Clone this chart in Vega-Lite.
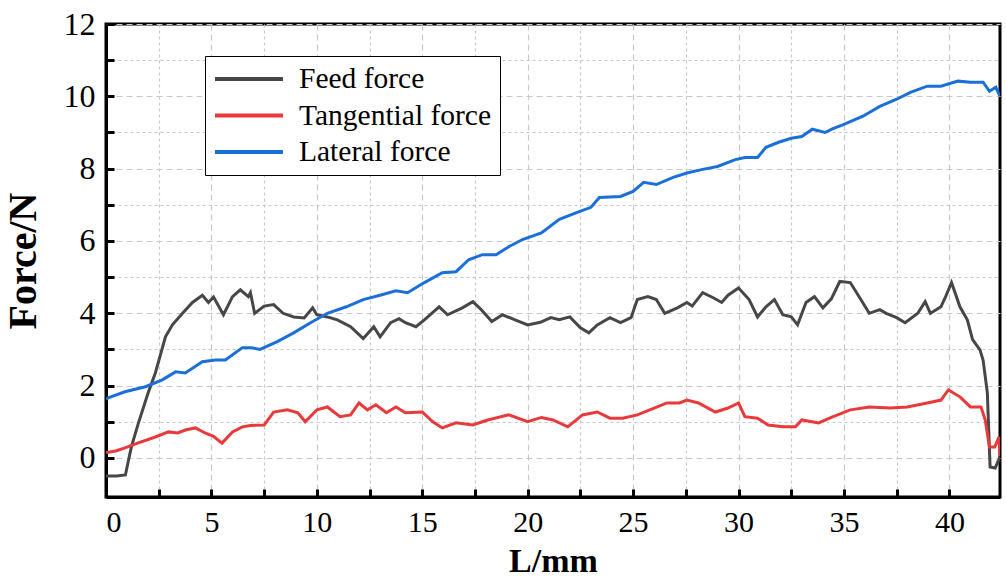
{
  "$schema": "https://vega.github.io/schema/vega-lite/v6.json",
  "autosize": "none",
  "width": 894,
  "height": 473,
  "padding": {"left": 106, "top": 24, "right": 6, "bottom": 83},
  "background": "white",
  "config": {
    "view": {"stroke": "black", "strokeWidth": 3},
    "font": "Liberation Serif",
    "axis": {"labelFont": "Liberation Serif", "titleFont": "Liberation Serif"},
    "legend": {"labelFont": "Liberation Serif"}
  },
  "data": {"values": [
{"s":"Feed force","L":0,"F":-0.5},{"s":"Feed force","L":0.5,"F":-0.5},{"s":"Feed force","L":0.92,"F":-0.47},{"s":"Feed force","L":1.2,"F":0.3},{"s":"Feed force","L":1.54,"F":0.97},{"s":"Feed force","L":2.0,"F":1.8},{"s":"Feed force","L":2.34,"F":2.35},{"s":"Feed force","L":2.82,"F":3.35},{"s":"Feed force","L":3.15,"F":3.68},{"s":"Feed force","L":3.63,"F":4.0},{"s":"Feed force","L":4.1,"F":4.3},{"s":"Feed force","L":4.57,"F":4.5},{"s":"Feed force","L":4.86,"F":4.3},{"s":"Feed force","L":5.1,"F":4.45},{"s":"Feed force","L":5.57,"F":3.96},{"s":"Feed force","L":6.0,"F":4.46},{"s":"Feed force","L":6.37,"F":4.65},{"s":"Feed force","L":6.75,"F":4.46},{"s":"Feed force","L":6.85,"F":4.57},{"s":"Feed force","L":7.05,"F":4.0},{"s":"Feed force","L":7.5,"F":4.2},{"s":"Feed force","L":7.95,"F":4.24},{"s":"Feed force","L":8.4,"F":4.0},{"s":"Feed force","L":8.9,"F":3.9},{"s":"Feed force","L":9.4,"F":3.87},{"s":"Feed force","L":9.8,"F":4.15},{"s":"Feed force","L":10.0,"F":3.96},{"s":"Feed force","L":10.5,"F":3.9},{"s":"Feed force","L":10.97,"F":3.82},{"s":"Feed force","L":11.6,"F":3.63},{"s":"Feed force","L":12.2,"F":3.3},{"s":"Feed force","L":12.7,"F":3.63},{"s":"Feed force","L":13.0,"F":3.35},{"s":"Feed force","L":13.5,"F":3.74},{"s":"Feed force","L":13.9,"F":3.85},{"s":"Feed force","L":14.2,"F":3.74},{"s":"Feed force","L":14.7,"F":3.63},{"s":"Feed force","L":15.1,"F":3.82},{"s":"Feed force","L":15.8,"F":4.18},{"s":"Feed force","L":16.2,"F":3.96},{"s":"Feed force","L":16.9,"F":4.15},{"s":"Feed force","L":17.4,"F":4.32},{"s":"Feed force","L":17.8,"F":4.1},{"s":"Feed force","L":18.3,"F":3.77},{"s":"Feed force","L":18.8,"F":3.96},{"s":"Feed force","L":19.4,"F":3.82},{"s":"Feed force","L":20.0,"F":3.68},{"s":"Feed force","L":20.6,"F":3.75},{"s":"Feed force","L":21.1,"F":3.88},{"s":"Feed force","L":21.5,"F":3.82},{"s":"Feed force","L":22.0,"F":3.9},{"s":"Feed force","L":22.5,"F":3.6},{"s":"Feed force","L":22.9,"F":3.46},{"s":"Feed force","L":23.3,"F":3.68},{"s":"Feed force","L":23.9,"F":3.88},{"s":"Feed force","L":24.4,"F":3.74},{"s":"Feed force","L":24.9,"F":3.88},{"s":"Feed force","L":25.2,"F":4.38},{"s":"Feed force","L":25.7,"F":4.46},{"s":"Feed force","L":26.1,"F":4.38},{"s":"Feed force","L":26.5,"F":4.0},{"s":"Feed force","L":27.1,"F":4.15},{"s":"Feed force","L":27.55,"F":4.3},{"s":"Feed force","L":27.8,"F":4.2},{"s":"Feed force","L":28.3,"F":4.57},{"s":"Feed force","L":28.8,"F":4.43},{"s":"Feed force","L":29.2,"F":4.3},{"s":"Feed force","L":29.5,"F":4.5},{"s":"Feed force","L":30.0,"F":4.7},{"s":"Feed force","L":30.5,"F":4.38},{"s":"Feed force","L":30.9,"F":3.9},{"s":"Feed force","L":31.3,"F":4.18},{"s":"Feed force","L":31.7,"F":4.38},{"s":"Feed force","L":32.1,"F":3.96},{"s":"Feed force","L":32.5,"F":3.9},{"s":"Feed force","L":32.8,"F":3.68},{"s":"Feed force","L":33.2,"F":4.3},{"s":"Feed force","L":33.6,"F":4.46},{"s":"Feed force","L":34.0,"F":4.15},{"s":"Feed force","L":34.4,"F":4.4},{"s":"Feed force","L":34.8,"F":4.88},{"s":"Feed force","L":35.3,"F":4.85},{"s":"Feed force","L":35.8,"F":4.38},{"s":"Feed force","L":36.2,"F":4.0},{"s":"Feed force","L":36.7,"F":4.1},{"s":"Feed force","L":37.0,"F":4.0},{"s":"Feed force","L":37.5,"F":3.88},{"s":"Feed force","L":37.9,"F":3.74},{"s":"Feed force","L":38.5,"F":4.0},{"s":"Feed force","L":38.85,"F":4.32},{"s":"Feed force","L":39.1,"F":4.0},{"s":"Feed force","L":39.6,"F":4.18},{"s":"Feed force","L":39.8,"F":4.43},{"s":"Feed force","L":40.1,"F":4.85},{"s":"Feed force","L":40.5,"F":4.18},{"s":"Feed force","L":40.85,"F":3.82},{"s":"Feed force","L":41.1,"F":3.27},{"s":"Feed force","L":41.45,"F":2.99},{"s":"Feed force","L":41.6,"F":2.7},{"s":"Feed force","L":41.8,"F":1.8},{"s":"Feed force","L":41.93,"F":-0.25},{"s":"Feed force","L":42.17,"F":-0.28},{"s":"Feed force","L":42.4,"F":0.03},
{"s":"Tangential force","L":0,"F":0.14},{"s":"Tangential force","L":0.5,"F":0.2},{"s":"Tangential force","L":0.9,"F":0.28},{"s":"Tangential force","L":1.5,"F":0.41},{"s":"Tangential force","L":2.34,"F":0.58},{"s":"Tangential force","L":2.96,"F":0.72},{"s":"Tangential force","L":3.4,"F":0.69},{"s":"Tangential force","L":3.8,"F":0.78},{"s":"Tangential force","L":4.24,"F":0.83},{"s":"Tangential force","L":4.7,"F":0.69},{"s":"Tangential force","L":5.1,"F":0.6},{"s":"Tangential force","L":5.5,"F":0.41},{"s":"Tangential force","L":6.0,"F":0.72},{"s":"Tangential force","L":6.47,"F":0.86},{"s":"Tangential force","L":6.85,"F":0.9},{"s":"Tangential force","L":7.5,"F":0.91},{"s":"Tangential force","L":7.95,"F":1.27},{"s":"Tangential force","L":8.6,"F":1.33},{"s":"Tangential force","L":9.1,"F":1.25},{"s":"Tangential force","L":9.45,"F":1.0},{"s":"Tangential force","L":10.0,"F":1.33},{"s":"Tangential force","L":10.5,"F":1.41},{"s":"Tangential force","L":11.1,"F":1.14},{"s":"Tangential force","L":11.6,"F":1.19},{"s":"Tangential force","L":12.0,"F":1.52},{"s":"Tangential force","L":12.4,"F":1.33},{"s":"Tangential force","L":12.8,"F":1.47},{"s":"Tangential force","L":13.3,"F":1.25},{"s":"Tangential force","L":13.75,"F":1.41},{"s":"Tangential force","L":14.2,"F":1.25},{"s":"Tangential force","L":15.0,"F":1.27},{"s":"Tangential force","L":15.5,"F":1.0},{"s":"Tangential force","L":15.95,"F":0.83},{"s":"Tangential force","L":16.6,"F":0.97},{"s":"Tangential force","L":17.4,"F":0.91},{"s":"Tangential force","L":18.1,"F":1.05},{"s":"Tangential force","L":19.1,"F":1.19},{"s":"Tangential force","L":20.0,"F":1.0},{"s":"Tangential force","L":20.65,"F":1.12},{"s":"Tangential force","L":21.2,"F":1.05},{"s":"Tangential force","L":21.9,"F":0.86},{"s":"Tangential force","L":22.6,"F":1.19},{"s":"Tangential force","L":23.3,"F":1.27},{"s":"Tangential force","L":23.9,"F":1.1},{"s":"Tangential force","L":24.5,"F":1.1},{"s":"Tangential force","L":25.2,"F":1.19},{"s":"Tangential force","L":26.0,"F":1.38},{"s":"Tangential force","L":26.6,"F":1.52},{"s":"Tangential force","L":27.2,"F":1.52},{"s":"Tangential force","L":27.55,"F":1.6},{"s":"Tangential force","L":28.1,"F":1.52},{"s":"Tangential force","L":28.9,"F":1.27},{"s":"Tangential force","L":29.5,"F":1.38},{"s":"Tangential force","L":30.0,"F":1.52},{"s":"Tangential force","L":30.3,"F":1.14},{"s":"Tangential force","L":30.9,"F":1.1},{"s":"Tangential force","L":31.4,"F":0.91},{"s":"Tangential force","L":32.1,"F":0.86},{"s":"Tangential force","L":32.7,"F":0.86},{"s":"Tangential force","L":33.0,"F":1.05},{"s":"Tangential force","L":33.8,"F":0.97},{"s":"Tangential force","L":34.4,"F":1.12},{"s":"Tangential force","L":35.3,"F":1.33},{"s":"Tangential force","L":36.2,"F":1.41},{"s":"Tangential force","L":37.2,"F":1.38},{"s":"Tangential force","L":38.0,"F":1.41},{"s":"Tangential force","L":38.95,"F":1.52},{"s":"Tangential force","L":39.6,"F":1.6},{"s":"Tangential force","L":39.95,"F":1.88},{"s":"Tangential force","L":40.5,"F":1.69},{"s":"Tangential force","L":41.0,"F":1.41},{"s":"Tangential force","L":41.5,"F":1.41},{"s":"Tangential force","L":41.7,"F":1.05},{"s":"Tangential force","L":41.9,"F":0.3},{"s":"Tangential force","L":42.15,"F":0.3},{"s":"Tangential force","L":42.35,"F":0.58},{"s":"Tangential force","L":42.4,"F":0.05},
{"s":"Lateral force","L":0,"F":1.62},{"s":"Lateral force","L":0.1,"F":1.66},{"s":"Lateral force","L":0.9,"F":1.83},{"s":"Lateral force","L":1.87,"F":1.97},{"s":"Lateral force","L":2.67,"F":2.16},{"s":"Lateral force","L":3.3,"F":2.38},{"s":"Lateral force","L":3.76,"F":2.35},{"s":"Lateral force","L":4.57,"F":2.66},{"s":"Lateral force","L":5.19,"F":2.71},{"s":"Lateral force","L":5.66,"F":2.71},{"s":"Lateral force","L":6.47,"F":3.05},{"s":"Lateral force","L":6.9,"F":3.05},{"s":"Lateral force","L":7.3,"F":3.0},{"s":"Lateral force","L":8.1,"F":3.21},{"s":"Lateral force","L":8.9,"F":3.46},{"s":"Lateral force","L":9.7,"F":3.74},{"s":"Lateral force","L":10.5,"F":4.0},{"s":"Lateral force","L":11.4,"F":4.18},{"s":"Lateral force","L":12.2,"F":4.38},{"s":"Lateral force","L":13.0,"F":4.5},{"s":"Lateral force","L":13.75,"F":4.62},{"s":"Lateral force","L":14.3,"F":4.57},{"s":"Lateral force","L":15.1,"F":4.85},{"s":"Lateral force","L":15.95,"F":5.12},{"s":"Lateral force","L":16.6,"F":5.15},{"s":"Lateral force","L":17.2,"F":5.48},{"s":"Lateral force","L":17.85,"F":5.62},{"s":"Lateral force","L":18.5,"F":5.62},{"s":"Lateral force","L":19.1,"F":5.84},{"s":"Lateral force","L":19.75,"F":6.04},{"s":"Lateral force","L":20.65,"F":6.22},{"s":"Lateral force","L":21.5,"F":6.6},{"s":"Lateral force","L":22.35,"F":6.79},{"s":"Lateral force","L":23.0,"F":6.93},{"s":"Lateral force","L":23.4,"F":7.2},{"s":"Lateral force","L":24.4,"F":7.23},{"s":"Lateral force","L":25.0,"F":7.37},{"s":"Lateral force","L":25.5,"F":7.62},{"s":"Lateral force","L":26.1,"F":7.56},{"s":"Lateral force","L":26.9,"F":7.76},{"s":"Lateral force","L":27.55,"F":7.88},{"s":"Lateral force","L":28.3,"F":7.98},{"s":"Lateral force","L":29.0,"F":8.06},{"s":"Lateral force","L":29.85,"F":8.25},{"s":"Lateral force","L":30.3,"F":8.31},{"s":"Lateral force","L":30.9,"F":8.31},{"s":"Lateral force","L":31.3,"F":8.59},{"s":"Lateral force","L":31.9,"F":8.73},{"s":"Lateral force","L":32.5,"F":8.84},{"s":"Lateral force","L":33.0,"F":8.89},{"s":"Lateral force","L":33.5,"F":9.09},{"s":"Lateral force","L":34.1,"F":9.0},{"s":"Lateral force","L":34.45,"F":9.1},{"s":"Lateral force","L":34.97,"F":9.22},{"s":"Lateral force","L":35.9,"F":9.45},{"s":"Lateral force","L":36.7,"F":9.72},{"s":"Lateral force","L":37.5,"F":9.92},{"s":"Lateral force","L":38.15,"F":10.11},{"s":"Lateral force","L":38.95,"F":10.28},{"s":"Lateral force","L":39.6,"F":10.28},{"s":"Lateral force","L":40.4,"F":10.42},{"s":"Lateral force","L":41.0,"F":10.39},{"s":"Lateral force","L":41.6,"F":10.39},{"s":"Lateral force","L":41.9,"F":10.14},{"s":"Lateral force","L":42.2,"F":10.25},{"s":"Lateral force","L":42.4,"F":10.0}
  ]},
  "mark": {"type": "line", "strokeWidth": 3, "clip": true},
  "encoding": {
    "x": {
      "field": "L", "type": "quantitative",
      "scale": {"domain": [0, 42.4], "nice": false, "zero": false},
      "axis": {
        "title": "L/mm",
        "titleFont": "Liberation Serif", "titleFontSize": 34, "titleFontWeight": "bold", "titleColor": "black",
        "titleY": 74, "titleBaseline": "alphabetic",
        "values": [0, 2.5, 5, 7.5, 10, 12.5, 15, 17.5, 20, 22.5, 25, 27.5, 30, 32.5, 35, 37.5, 40],
        "labelExpr": "datum.value % 5 === 0 ? datum.label : ''",
        "labelFont": "Liberation Serif", "labelFontSize": 30, "labelColor": "black", "labelPadding": 18, "labelBaseline": "top",
        "domainColor": "black", "domainWidth": 3,
        "tickColor": "black", "tickWidth": 3, "tickSize": -8,
        "grid": true, "gridColor": "#c8c8c8", "gridWidth": 1.2,
        "gridDash": {"condition": {"test": "datum.value % 5 === 0", "value": [6, 4]}, "value": [3, 3]}
      }
    },
    "y": {
      "field": "F", "type": "quantitative",
      "scale": {"domain": [-1.08, 12], "nice": false, "zero": false},
      "axis": {
        "title": "Force/N",
        "titleFont": "Liberation Serif", "titleFontSize": 40, "titleFontWeight": "bold", "titleColor": "black", "titlePadding": 20,
        "values": [0, 1, 2, 3, 4, 5, 6, 7, 8, 9, 10, 11, 12],
        "labelExpr": "datum.value % 2 === 0 ? datum.label : ''",
        "labelFont": "Liberation Serif", "labelFontSize": 32, "labelColor": "black", "labelPadding": 19,
        "domainColor": "black", "domainWidth": 3,
        "tickColor": "black", "tickWidth": 3, "tickSize": -8,
        "grid": true, "gridColor": "#c8c8c8", "gridWidth": 1.2,
        "gridDash": {"condition": {"test": "datum.value % 2 === 0", "value": [6, 4]}, "value": [3, 3]}
      }
    },
    "color": {
      "field": "s", "type": "nominal",
      "scale": {"domain": ["Feed force", "Tangential force", "Lateral force"], "range": ["#474747", "#e8393b", "#1b6fd9"]},
      "legend": {
        "title": null, "orient": "none", "legendX": 99, "legendY": 32,
        "symbolType": "stroke", "symbolSize": 4624, "symbolStrokeWidth": 4,
        "clipHeight": 30, "rowPadding": 6.5, "labelLimit": 400,
        "labelFont": "Liberation Serif", "labelFontSize": 29.5, "labelColor": "black", "labelOffset": 14,
        "strokeColor": "black", "fillColor": "white", "padding": 8
      }
    },
    "order": {"field": "L", "type": "quantitative"}
  }
}
